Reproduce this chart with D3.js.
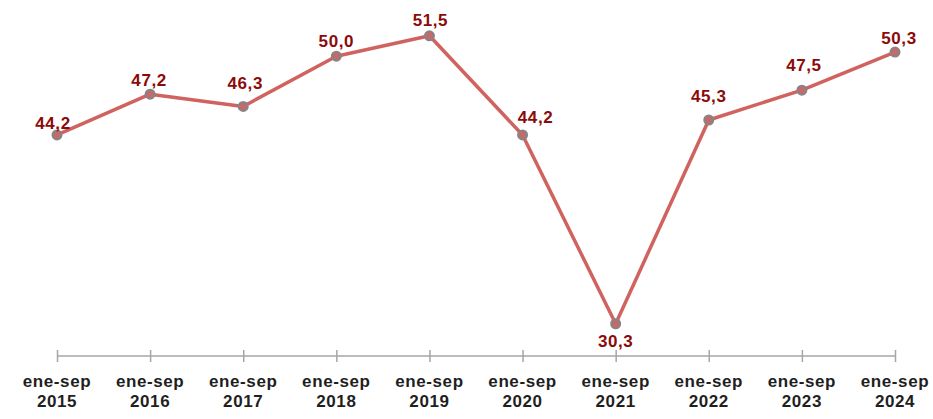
<!DOCTYPE html>
<html>
<head>
<meta charset="utf-8">
<script src="https://cdn.jsdelivr.net/npm/d3@7"></script>
<style>
  html, body { margin: 0; padding: 0; background: #fff; }
  svg { display: block; }
</style>
</head>
<body>
<svg id="chart" width="933" height="419"></svg>
<script>
// Series: January–September totals by year
const periods = ["ene-sep", "ene-sep", "ene-sep", "ene-sep", "ene-sep", "ene-sep", "ene-sep", "ene-sep", "ene-sep", "ene-sep"];
const years = ["2015", "2016", "2017", "2018", "2019", "2020", "2021", "2022", "2023", "2024"];
const values = [44.2, 47.2, 46.3, 50.0, 51.5, 44.2, 30.3, 45.3, 47.5, 50.3];

const svg = d3.select("#chart");
const fontFamily = "'Liberation Sans', Arial, sans-serif";

const x = d3.scalePoint().domain(years).range([57, 895]);
const y = d3.scaleLinear().domain([28, 52]).range([355, 29]);

// Bottom axis with tick marks crossing the baseline
const axis = d3.axisBottom(x).tickSizeInner(6).tickSizeOuter(0).tickFormat("");
const axisG = svg.append("g").attr("transform", "translate(0,356)").call(axis);
axisG.select(".domain").attr("stroke", "#a6a6a6").attr("stroke-width", 1.5)
  .attr("d", `M${x(years[0])},0H${x(years[years.length - 1])}`);
axisG.selectAll(".tick line").attr("stroke", "#a6a6a6").attr("stroke-width", 1.5).attr("y1", -6).attr("y2", 6);

// Two-line category labels
const lab = svg.append("g").attr("font-family", fontFamily).attr("font-weight", "bold")
  .attr("font-size", 17).attr("fill", "#1f1f1f").attr("text-anchor", "middle");
years.forEach((yr, i) => {
  const t = lab.append("text").attr("letter-spacing", 0.6);
  t.append("tspan").attr("x", x(yr)).attr("y", 387).text(periods[i]);
  t.append("tspan").attr("x", x(yr)).attr("y", 407).text(yr);
});

// Line
const line = d3.line().x((d, i) => x(years[i])).y(d => y(d));
svg.append("path").datum(values)
  .attr("fill", "none").attr("stroke", "#d0625f").attr("stroke-width", 3.5)
  .attr("stroke-linejoin", "round").attr("d", line);

// Markers
svg.append("g").selectAll("circle").data(values).join("circle")
  .attr("cx", (d, i) => x(years[i])).attr("cy", d => y(d)).attr("r", 4.5)
  .attr("fill", "#c46a6a").attr("stroke", "#858585").attr("stroke-width", 2);

// Value labels, nudged off the line: [dx, dy] from each point to the text baseline
const labelNudge = [[-4, -6], [-1, -8], [2, -17], [0, -9], [1, -10], [13, -12], [0, 23], [0, -18], [2, -19], [4, -8]];
const fmt = v => v.toFixed(1).replace(".", ",");
svg.append("g").attr("font-family", fontFamily).attr("font-weight", "bold")
  .attr("font-size", 17).attr("fill", "#8b0a0a").attr("text-anchor", "middle")
  .selectAll("text").data(values).join("text")
  .attr("letter-spacing", 0.6)
  .attr("x", (d, i) => x(years[i]) + labelNudge[i][0])
  .attr("y", (d, i) => y(d) + labelNudge[i][1])
  .text(d => fmt(d));
</script>
</body>
</html>
